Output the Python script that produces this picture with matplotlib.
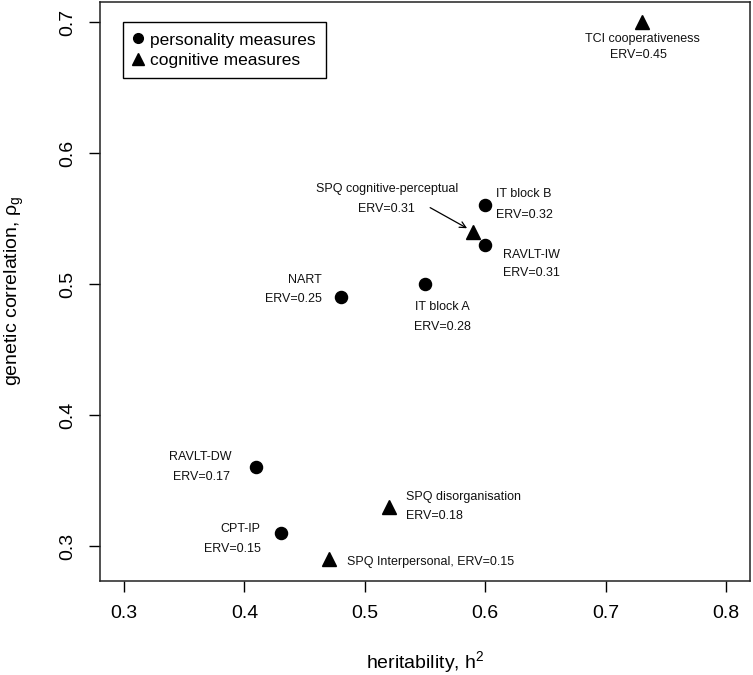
import matplotlib
matplotlib.use("Agg")
import matplotlib.pyplot as plt
from matplotlib.lines import Line2D

plt.rcParams['font.family'] = ['Liberation Sans', 'DejaVu Sans']
plt.rcParams['mathtext.fontset'] = 'custom'
plt.rcParams['mathtext.rm'] = 'Liberation Sans'
plt.rcParams['mathtext.it'] = 'Liberation Sans'

# ---------------- data ----------------
pers_names = ["NART", "IT block A", "IT block B", "RAVLT-IW", "RAVLT-DW", "CPT-IP"]
pers_h2 = [0.48, 0.55, 0.60, 0.60, 0.41, 0.43]
pers_rg = [0.49, 0.50, 0.56, 0.53, 0.36, 0.31]
pers_erv = [0.25, 0.28, 0.32, 0.31, 0.17, 0.15]

cog_names = ["TCI cooperativeness", "SPQ cognitive-perceptual",
             "SPQ disorganisation", "SPQ Interpersonal"]
cog_h2 = [0.73, 0.59, 0.52, 0.47]
cog_rg = [0.70, 0.54, 0.33, 0.29]
cog_erv = [0.45, 0.31, 0.18, 0.15]

x_ticks = [0.3, 0.4, 0.5, 0.6, 0.7, 0.8]
y_ticks = [0.3, 0.4, 0.5, 0.6, 0.7]
legend_labels = ["personality measures", "cognitive measures"]

# ---------------- label layout (pixel offsets: dx right, dy down) ----------------
label_layout = {
    "NART": ("right", [(-19, -17), (-19, 2)]),
    "IT block A": ("center", [(17, 23), (17, 43)]),
    "IT block B": ("left", [(11, -11), (11, 10)]),
    "RAVLT-IW": ("left", [(18, 10), (18, 28)]),
    "RAVLT-DW": ("right", [(-25, -10), (-26, 10)]),
    "CPT-IP": ("right", [(-20, -4), (-20, 16)]),
    "TCI cooperativeness": ("center", [(1, 17), (-3, 33)]),
    "SPQ cognitive-perceptual": ("center", [(-86, -43), (-87, -23)]),
    "SPQ disorganisation": ("left", [(17, -10), (17, 9)]),
    "SPQ Interpersonal": ("left", [(18, 3)]),
}
single_line = {"SPQ Interpersonal"}

W, H = 753, 675
fig = plt.figure(figsize=(W / 100, H / 100), dpi=100)
ax = fig.add_axes([100 / W, 1 - 581 / H, 650 / W, 579 / H])

ax.set_xlim(0.28, 0.82)
ax.set_ylim(0.2733, 0.7153)

ax.plot(pers_h2, pers_rg, linestyle='none', marker='o', ms=8.7,
        color='black', zorder=3)
ax.plot(cog_h2, cog_rg, linestyle='none', marker='^', ms=10.5,
        color='black', zorder=3)

fs_lab = 9


def put_labels(names, xs, ys, ervs):
    for n, x, y, e in zip(names, xs, ys, ervs):
        ha, offs = label_layout[n]
        if n in single_line:
            lines = [f"{n}, ERV={e:.2f}"]
        else:
            lines = [n, f"ERV={e:.2f}"]
        for t, (dx, dy) in zip(lines, offs):
            ax.annotate(t, xy=(x, y), xytext=(dx, -dy),
                        textcoords='offset pixels', ha=ha, va='center',
                        fontsize=fs_lab, color='#111111')


put_labels(pers_names, pers_h2, pers_rg, pers_erv)
put_labels(cog_names, cog_h2, cog_rg, cog_erv)

# arrow for SPQ cognitive-perceptual
i = cog_names.index("SPQ cognitive-perceptual")
ax.annotate('', xy=(cog_h2[i], cog_rg[i]), xytext=(-43, 24),
            textcoords='offset pixels',
            arrowprops=dict(arrowstyle='->', lw=0.9, color='black',
                            shrinkA=0, shrinkB=5, mutation_scale=11))

# axes styling
ax.set_xticks(x_ticks)
ax.set_xticklabels([f"{v:.1f}" for v in x_ticks])
ax.set_yticks(y_ticks)
ax.set_yticklabels([f"{v:.1f}" for v in y_ticks], rotation=90, va='center')
ax.tick_params(axis='both', direction='out', length=8, width=1.0,
               labelsize=14, pad=9, colors='black')
for s in ax.spines.values():
    s.set_linewidth(1.1)
    s.set_color('#222222')

fig.text(425 / W, 1 - 662 / H, r"heritability, h$^\mathregular{2}$",
         ha='center', va='center', fontsize=14)
fig.text(14 / W, 1 - 291 / H, r"genetic correlation, ρ$_\mathregular{g}$",
         ha='center', va='center', rotation=90, fontsize=14)

handles = [Line2D([], [], linestyle='none', marker='o', ms=7, color='black'),
           Line2D([], [], linestyle='none', marker='^', ms=8.5, color='black')]
leg = ax.legend(handles, legend_labels, loc='upper left',
                bbox_to_anchor=(23 / 650, 1 - 20 / 579), borderaxespad=0,
                fontsize=12.5, frameon=True, fancybox=False, framealpha=1,
                edgecolor='black', handlelength=0.5, handletextpad=0.45,
                labelspacing=0.3, borderpad=0.6)
leg.get_frame().set_linewidth(1.0)

fig.savefig("out.png", dpi=100)
